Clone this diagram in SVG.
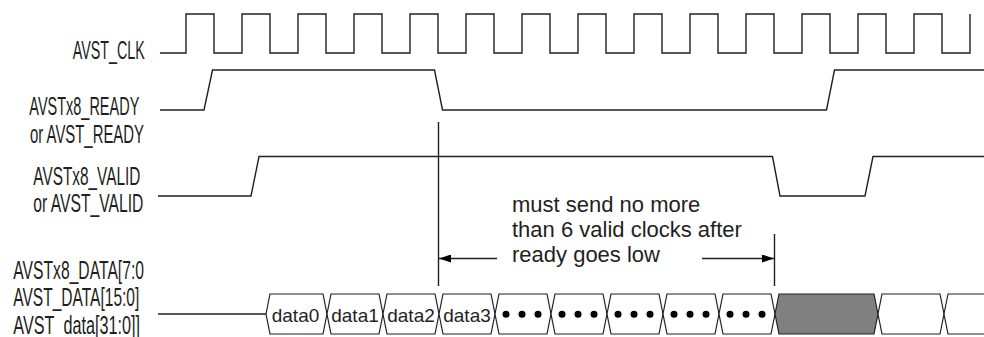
<svg xmlns="http://www.w3.org/2000/svg" width="984" height="337" viewBox="0 0 984 337">
<style>
.sig{fill:none;stroke:#231f20;stroke-width:1.4;stroke-linejoin:miter}
.lbl{font-family:"Liberation Sans",Arial,sans-serif;font-size:26px;fill:#231f20}
.note{font-family:"Liberation Sans",Arial,sans-serif;font-size:22px;fill:#231f20}
.dtxt{font-family:"Liberation Sans",Arial,sans-serif;font-size:19px;fill:#231f20;text-anchor:middle}
.box{fill:#fff;stroke:#231f20;stroke-width:1.2}
.gray{fill:#808080;stroke:#231f20;stroke-width:1.2}
.dot{fill:#000}
</style>
<defs>
<marker id="ah" viewBox="0 0 12 8" refX="12" refY="4" markerWidth="12" markerHeight="8" markerUnits="userSpaceOnUse" orient="auto">
<path d="M0,0 L12,4 L0,8 Z" fill="#000"/>
</marker>
</defs>
<rect width="984" height="337" fill="#fff"/>
<g id="labels">
<text class="lbl" x="72.7" y="58.5" textLength="72" lengthAdjust="spacingAndGlyphs">AVST_CLK</text>
<text class="lbl" x="29.3" y="115" textLength="110" lengthAdjust="spacingAndGlyphs">AVSTx8_READY</text>
<text class="lbl" x="30" y="142.5" textLength="114" lengthAdjust="spacingAndGlyphs">or AVST_READY</text>
<text class="lbl" x="33.3" y="185" textLength="107" lengthAdjust="spacingAndGlyphs">AVSTx8_VALID</text>
<text class="lbl" x="33.3" y="211.7" textLength="110" lengthAdjust="spacingAndGlyphs">or AVST_VALID</text>
<text class="lbl" x="13.3" y="278.5" textLength="130.7" lengthAdjust="spacingAndGlyphs">AVSTx8_DATA[7:0</text>
<text class="lbl" x="13.3" y="306" textLength="126" lengthAdjust="spacingAndGlyphs">AVST_DATA[15:0]</text>
<text class="lbl" x="13.3" y="333.5" textLength="126.7" lengthAdjust="spacingAndGlyphs">AVST_data[31:0]]</text>
</g>
<g id="clk">
<path class="sig" d="M160,53 H186 V14 H214 V53 H242 V14 H270 V53 H298 V14 H326 V53 H354 V14 H382 V53 H410 V14 H438 V53 H466 V14 H494 V53 H522 V14 H550 V53 H578 V14 H606 V53 H634 V14 H662 V53 H690 V14 H718 V53 H746 V14 H774 V53 H802 V14 H830 V53 H858 V14 H886 V53 H914 V14 H942 V53 H970 V14"/>
</g>
<g id="ready">
<path class="sig" d="M160,110 H204 L212.5,70 H434.5 L442.5,110 H826.5 L834.5,70 H984"/>
</g>
<g id="valid">
<path class="sig" d="M158,196 H251 L259,156.5 H772.5 L780,196 H865 L873,156.5 H984"/>
</g>
<g id="data">
<path class="sig" d="M158,314 H266"/>
<path class="box" d="M266,314 L270,294 H323 L327,314 L323,334 H270 Z"/>
<path class="box" d="M327,314 L331,294 H379 L383,314 L379,334 H331 Z"/>
<path class="box" d="M383,314 L387,294 H435 L439,314 L435,334 H387 Z"/>
<path class="box" d="M439,314 L443,294 H491 L495,314 L491,334 H443 Z"/>
<path class="box" d="M495,314 L499,294 H547 L551,314 L547,334 H499 Z"/>
<path class="box" d="M551,314 L555,294 H603 L607,314 L603,334 H555 Z"/>
<path class="box" d="M607,314 L611,294 H659 L663,314 L659,334 H611 Z"/>
<path class="box" d="M663,314 L667,294 H715 L719,314 L715,334 H667 Z"/>
<path class="box" d="M719,314 L723,294 H771 L775,314 L771,334 H723 Z"/>
<path class="gray" d="M775,314 L779,294 H874 L878,314 L874,334 H779 Z"/>
<path class="box" d="M878,314 L882,294 H940 L944,314 L940,334 H882 Z"/>
<path class="box" d="M944,314 L948,294 H990 V334 H948 Z"/>
<text class="dtxt" x="295.5" y="321.7">data0</text>
<text class="dtxt" x="355" y="321.7">data1</text>
<text class="dtxt" x="411" y="321.7">data2</text>
<text class="dtxt" x="467" y="321.7">data3</text>
<g class="dot">
<circle cx="506" cy="314.3" r="3.5"/><circle cx="522" cy="314.3" r="3.5"/><circle cx="538" cy="314.3" r="3.5"/>
<circle cx="562" cy="314.3" r="3.5"/><circle cx="578" cy="314.3" r="3.5"/><circle cx="594" cy="314.3" r="3.5"/>
<circle cx="618" cy="314.3" r="3.5"/><circle cx="634" cy="314.3" r="3.5"/><circle cx="650" cy="314.3" r="3.5"/>
<circle cx="674" cy="314.3" r="3.5"/><circle cx="690" cy="314.3" r="3.5"/><circle cx="706" cy="314.3" r="3.5"/>
<circle cx="730" cy="314.3" r="3.5"/><circle cx="746" cy="314.3" r="3.5"/><circle cx="762" cy="314.3" r="3.5"/>
</g>
</g>
<g id="connectors">
<path class="sig" d="M438.5,122 V286"/>
<path class="sig" d="M774.5,234 V286"/>
<path class="sig" d="M497,258.5 H439" marker-end="url(#ah)"/>
<path class="sig" d="M702,258.5 H774" marker-end="url(#ah)"/>
</g>
<g id="note">
<text class="note" x="512" y="211.5">must send no more</text>
<text class="note" x="512" y="236.5">than 6 valid clocks after</text>
<text class="note" x="512" y="262">ready goes low</text>
</g>
</svg>
